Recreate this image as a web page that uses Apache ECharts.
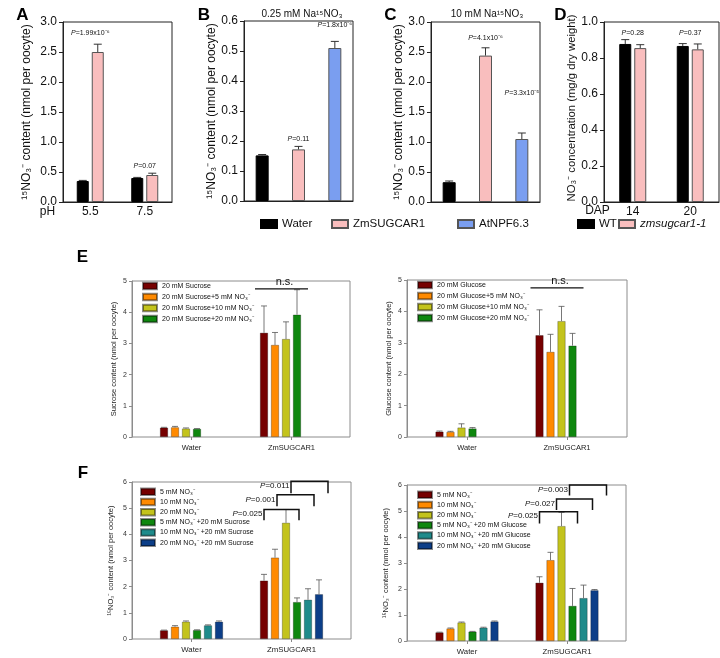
<!DOCTYPE html>
<html><head><meta charset="utf-8">
<script src="https://cdn.jsdelivr.net/npm/echarts@6/dist/echarts.min.js"></script>
<style>html,body{margin:0;padding:0;background:#fff}#c{width:720px;height:658px}</style>
</head><body><div id="c"></div>
<script>
// ================= DATA =================
// Panel A
const aCats = ['5.5', '7.5'];
const aWater = [0.35, 0.40];
const aWaterErr = [0.01, 0.01];
const aZm = [2.50, 0.45];
const aZmErr = [0.13, 0.03];
const aPText = ['P=1.99x10⁻⁶', 'P=0.07'];
const aPAt = [2.82, 0.60];
// Panel B (0.25 mM)
const bCats = ['Water', 'ZmSUGCAR1', 'AtNPF6.3'];
const bVals = [0.152, 0.172, 0.510];
const bErr = [0.003, 0.010, 0.022];
const bPText = [null, 'P=0.11', 'P=1.8x10⁻⁶'];
const bPAt = [null, 0.206, 0.588];
// Panel C (10 mM)
const cVals = [0.33, 2.44, 1.05];
const cErr = [0.02, 0.13, 0.10];
const cPText = [null, 'P=4.1x10⁻⁶', 'P=3.3x10⁻⁵'];
const cPAt = [null, 2.74, 1.81];
// Panel D
const dCats = ['14', '20'];
const dWT = [0.878, 0.867];
const dWTErr = [0.024, 0.013];
const dMut = [0.855, 0.848];
const dMutErr = [0.019, 0.030];
const dPText = ['P=0.28', 'P=0.37'];
const dPAt = [0.94, 0.94];
// Panel E
const eCats = ['Water', 'ZmSUGCAR1'];
const eSucNames = ['20 mM Sucrose', '20 mM Sucrose+5 mM NO₃⁻', '20 mM Sucrose+10 mM NO₃⁻', '20 mM Sucrose+20 mM NO₃⁻'];
const eSucVals = [[0.30, 3.34], [0.31, 2.95], [0.27, 3.14], [0.26, 3.92]];
const eSucErr = [[0.01, 0.86], [0.03, 0.40], [0.02, 0.55], [0.01, 0.80]];
const eGluNames = ['20 mM Glucose', '20 mM Glucose+5 mM NO₃⁻', '20 mM Glucose+10 mM NO₃⁻', '20 mM Glucose+20 mM NO₃⁻'];
const eGluVals = [[0.17, 3.24], [0.16, 2.71], [0.30, 3.69], [0.27, 2.91]];
const eGluErr = [[0.02, 0.81], [0.02, 0.56], [0.12, 0.47], [0.03, 0.39]];
const eNsText = 'n.s.';
const eNsAt = 4.75;
// Panel F
const fCats = ['Water', 'ZmSUGCAR1'];
const fSucNames = ['5 mM NO₃⁻', '10 mM NO₃⁻', '20 mM NO₃⁻', '5 mM NO₃⁻ +20 mM Sucrose', '10 mM NO₃⁻ +20 mM Sucrose', '20 mM NO₃⁻ +20 mM Sucrose'];
const fSucVals = [[0.33, 2.23], [0.47, 3.11], [0.66, 4.44], [0.34, 1.41], [0.52, 1.50], [0.66, 1.71]];
const fSucErr = [[0.01, 0.24], [0.04, 0.32], [0.03, 0.51], [0.01, 0.16], [0.02, 0.42], [0.03, 0.55]];
const fSucP = ['P=0.025', 'P=0.001', 'P=0.011'];
const fSucBrTop = [4.95, 5.51, 6.03];
const fSucBrEnd = [4.54, 5.07, 5.57];
const fGluNames = ['5 mM NO₃⁻', '10 mM NO₃⁻', '20 mM NO₃⁻', '5 mM NO₃⁻ +20 mM Glucose', '10 mM NO₃⁻ +20 mM Glucose', '20 mM NO₃⁻ +20 mM Glucose'];
const fGluVals = [[0.33, 2.24], [0.48, 3.11], [0.71, 4.42], [0.36, 1.35], [0.51, 1.65], [0.75, 1.95]];
const fGluErr = [[0.01, 0.23], [0.02, 0.30], [0.02, 0.53], [0.01, 0.67], [0.02, 0.50], [0.02, 0.03]];
const fGluP = ['P=0.025', 'P=0.027', 'P=0.003'];
const fGluBrTop = [4.97, 5.46, 6.0];
const fGluBrEnd = [4.52, 5.04, 5.6];

// ================= STYLE =================
const FF = '"Liberation Sans", Arial, Helvetica, sans-serif';
const BLACK = '#000000', PINK = '#F9BEBE', BLUE = '#7A9EF0';
const E_COLORS = ['#760000', '#FF8A00', '#C3C31C', '#0E870E', '#1F8B8B', '#0C3E88'];
const NAME15 = '¹⁵NO₃⁻ content (nmol per oocyte)';
const NAMED = 'NO₃⁻ concentration (mg/g dry weight)';
const TOPERR = {color: '#333', cap: 4, width: 1};
const SMERR = {color: '#555', cap: 3, width: 0.8};
const brOffL = {suc: [0, 2, 5], glu: [0, 6, 8]};
const brOffR = {suc: [2, 6, 9], glu: [5, 9, 12]};

const grids = [
  {left: 63, top: 22, width: 109, height: 180, show: true, borderColor: '#222', borderWidth: 1},
  {left: 244, top: 21, width: 109, height: 180, show: true, borderColor: '#222', borderWidth: 1},
  {left: 431, top: 22, width: 109, height: 180, show: true, borderColor: '#222', borderWidth: 1},
  {left: 604, top: 22, width: 115, height: 180, show: true, borderColor: '#222', borderWidth: 1},
  {left: 132, top: 281, width: 218, height: 156, show: true, borderColor: '#8c8c8c', borderWidth: 1},
  {left: 141.5, top: 281, width: 200, height: 156},
  {left: 407, top: 280, width: 220, height: 157, show: true, borderColor: '#8c8c8c', borderWidth: 1},
  {left: 417, top: 280, width: 200, height: 157},
  {left: 132, top: 482, width: 219, height: 157, show: true, borderColor: '#8c8c8c', borderWidth: 1},
  {left: 141.5, top: 482, width: 200, height: 157},
  {left: 407, top: 485, width: 219, height: 156, show: true, borderColor: '#8c8c8c', borderWidth: 1},
  {left: 417, top: 485, width: 200, height: 156}
];

function topX(gi, cats, showLabel) {
  return {gridIndex: gi, type: 'category', data: cats,
    axisLine: {show: true, lineStyle: {color: '#222', width: 1}}, axisTick: {show: false},
    axisLabel: {show: showLabel, fontSize: 12, color: '#111', fontFamily: FF, margin: 4}};
}
function topY(gi, max, interval, name, gap, fs, pad) {
  return {gridIndex: gi, type: 'value', min: 0, max: max, interval: interval,
    name: name, nameLocation: 'middle', nameGap: gap,
    nameTextStyle: {fontSize: fs, color: '#111', fontFamily: FF, padding: pad || 0},
    axisLine: {show: true, lineStyle: {color: '#222', width: 1}},
    axisTick: {show: true, length: 4, lineStyle: {color: '#222'}},
    axisLabel: {fontSize: 12, color: '#111', fontFamily: FF, margin: 6, formatter: v => v.toFixed(1)},
    splitLine: {show: false}};
}
function hidX(gi) { return {gridIndex: gi, type: 'value', show: false}; }
function smX(gi, cats, fs) {
  return {gridIndex: gi, type: 'category', data: cats,
    axisLine: {show: false},
    axisTick: {show: true, alignWithLabel: true, length: 3, lineStyle: {color: '#888'}},
    axisLabel: {fontSize: fs, color: '#222', fontFamily: FF, margin: 7}};
}
function smY(gi, max, name, gap) {
  return {gridIndex: gi, type: 'value', min: 0, max: max, interval: 1,
    name: name, nameLocation: 'middle', nameGap: gap,
    nameTextStyle: {fontSize: 7.5, color: '#222', fontFamily: FF},
    axisLine: {show: true, lineStyle: {color: '#8c8c8c'}},
    axisTick: {show: true, length: 3, lineStyle: {color: '#8c8c8c'}},
    axisLabel: {fontSize: 7, color: '#333', fontFamily: FF, margin: 5},
    splitLine: {show: false}};
}
function hidY(gi, max) { return {gridIndex: gi, type: 'value', min: 0, max: max, show: false}; }

const xAxis = [
  topX(0, aCats, true),
  topX(1, bCats, false),
  topX(2, bCats, false),
  topX(3, dCats, true),
  hidX(4), smX(5, eCats, 7.5),
  hidX(6), smX(7, eCats, 7.5),
  hidX(8), smX(9, fCats, 7.8),
  hidX(10), smX(11, fCats, 7.8)
];
const yAxis = [
  topY(0, 3, 0.5, NAME15, 30, 12),
  topY(1, 0.6, 0.1, NAME15, 25, 12),
  topY(2, 3, 0.5, NAME15, 26, 12),
  topY(3, 1, 0.2, NAMED, 25, 11.3, [0, 0, 0, 8]),
  smY(4, 5, 'Sucrose content (nmol per oocyte)', 14), hidY(5, 5),
  smY(6, 5, 'Glucose content (nmol per oocyte)', 14), hidY(7, 5),
  smY(8, 6, NAME15, 17), hidY(9, 6),
  smY(10, 6, NAME15, 17), hidY(11, 6)
];

// ================= SERIES =================
const series = [];
const errInfo = [];
function addBar(cfg, err, es) {
  series.push(Object.assign({type: 'bar', animation: false}, cfg));
  errInfo.push(err ? Object.assign({err: err}, es) : null);
  return series.length - 1;
}
const topBorder = c => ({color: c, borderColor: c === BLACK ? BLACK : '#555', borderWidth: 1});

// A
addBar({name: 'Water', xAxisIndex: 0, yAxisIndex: 0, data: aWater, barWidth: 12, barGap: '25%', itemStyle: topBorder(BLACK)}, aWaterErr, TOPERR);
addBar({name: 'ZmSUGCAR1', xAxisIndex: 0, yAxisIndex: 0, data: aZm, barWidth: 12, barGap: '25%', itemStyle: topBorder(PINK)}, aZmErr, TOPERR);
// B, C (one bar per category, stacked to share the slot)
const topCols = [BLACK, PINK, BLUE];
const bIdx = [], cIdx = [];
bCats.forEach((nm, k) => {
  bIdx.push(addBar({name: nm, xAxisIndex: 1, yAxisIndex: 1, stack: 'B', barWidth: 13,
    data: bCats.map((_, i) => i === k ? bVals[k] : '-'), itemStyle: topBorder(topCols[k])},
    bCats.map((_, i) => i === k ? bErr[k] : null), TOPERR));
});
bCats.forEach((nm, k) => {
  cIdx.push(addBar({name: nm, xAxisIndex: 2, yAxisIndex: 2, stack: 'C', barWidth: 13,
    data: bCats.map((_, i) => i === k ? cVals[k] : '-'), itemStyle: topBorder(topCols[k])},
    bCats.map((_, i) => i === k ? cErr[k] : null), TOPERR));
});
// D
addBar({name: 'WT', xAxisIndex: 3, yAxisIndex: 3, data: dWT, barWidth: 12, barGap: '25%', itemStyle: topBorder(BLACK)}, dWTErr, TOPERR);
addBar({name: 'zmsugcar1-1', xAxisIndex: 3, yAxisIndex: 3, data: dMut, barWidth: 12, barGap: '25%', itemStyle: topBorder(PINK)}, dMutErr, TOPERR);

const smStyle = c => ({color: c, borderColor: 'rgba(0,0,0,0.45)', borderWidth: 0.6});
function addGroup(names, vals, errs, axis, pads) {
  const idx = [];
  names.forEach((nm, k) => {
    idx.push(addBar({name: nm, xAxisIndex: axis, yAxisIndex: axis, data: vals[k], barWidth: 8, barGap: '37.5%', itemStyle: smStyle(E_COLORS[k])}, errs[k], SMERR));
  });
  for (let p = 0; p < pads; p++) {
    addBar({name: '_pad' + axis + p, xAxisIndex: axis, yAxisIndex: axis, data: ['-', '-'], barWidth: 8, barGap: '37.5%'}, null);
  }
  return idx;
}
const eLIdx = addGroup(eSucNames, eSucVals, eSucErr, 5, 2);
const eRIdx = addGroup(eGluNames, eGluVals, eGluErr, 7, 2);
const fLIdx = addGroup(fSucNames, fSucVals, fSucErr, 9, 0);
const fRIdx = addGroup(fGluNames, fGluVals, fGluErr, 11, 0);

// ================= LEGENDS =================
const topLeg = {orient: 'horizontal', top: 218, padding: 0, itemWidth: 16, itemHeight: 8, icon: 'rect', selectedMode: false,
  textStyle: {fontSize: 11.5, color: '#111', fontFamily: FF}};
const eLeg = {orient: 'vertical', padding: 0, itemWidth: 14, itemHeight: 6.5, itemGap: 2, icon: 'rect', selectedMode: false,
  textStyle: {fontSize: 7, lineHeight: 9, color: '#111', fontFamily: FF}};
const fLeg = Object.assign({}, eLeg, {itemGap: 1.7, textStyle: {fontSize: 7, lineHeight: 8.5, color: '#111', fontFamily: FF}});
const legend = [
  Object.assign({}, topLeg, {data: ['Water'], left: 260}),
  Object.assign({}, topLeg, {data: ['ZmSUGCAR1'], left: 331}),
  Object.assign({}, topLeg, {data: ['AtNPF6.3'], left: 457}),
  Object.assign({}, topLeg, {data: ['WT'], left: 577}),
  Object.assign({}, topLeg, {data: ['zmsugcar1-1'], left: 618, textStyle: {fontSize: 11.5, color: '#111', fontFamily: FF, fontStyle: 'italic'}}),
  Object.assign({}, eLeg, {data: eSucNames, left: 142, top: 281.5}),
  Object.assign({}, eLeg, {data: eGluNames, left: 417, top: 280.5}),
  Object.assign({}, fLeg, {data: fSucNames, left: 140, top: 487.5}),
  Object.assign({}, fLeg, {data: fGluNames, left: 417, top: 490.5})
];

const option = {animation: false, backgroundColor: '#fff', grid: grids, xAxis: xAxis, yAxis: yAxis, series: series, legend: legend};
const chart = echarts.init(document.getElementById('c'), null, {renderer: 'canvas'});
chart.setOption(option);

// ================= ANNOTATIONS (from library layout) =================
const model = chart.getModel();
const G = [];
const ln = (x1, y1, x2, y2, c, w) => ({type: 'line', silent: true, z: 100, shape: {x1, y1, x2, y2}, style: {stroke: c, lineWidth: w}});
const tx = (x, y, t, o) => ({type: 'text', silent: true, z: 100, x: x, y: y,
  style: Object.assign({text: t, fill: '#111', fontFamily: FF, fontSize: 10, align: 'center', verticalAlign: 'middle', textAlign: 'center', textVerticalAlign: 'middle'}, o)});
const pTx = (x, y, t, fs, align) => tx(x, y, '{i|P}' + t.slice(1), {fontSize: fs, align: align || 'center', textAlign: align || 'center',
  rich: {i: {fontStyle: 'italic', fontSize: fs, fontFamily: FF, fill: '#111'}}});
function bar(si, i) {
  const L = model.getSeriesByIndex(si).getData().getItemLayout(i);
  const top = Math.min(L.y, L.y + L.height);
  return {cx: L.x + L.width / 2, left: L.x, right: L.x + L.width, top: top};
}
const yPix = (ai, v) => chart.convertToPixel({yAxisIndex: ai}, v);
const xCat = (ai, c) => chart.convertToPixel({xAxisIndex: ai}, c);

// error bars
errInfo.forEach((e, si) => {
  if (!e) return;
  const s = series[si];
  s.data.forEach((v, i) => {
    if (typeof v !== 'number' || e.err[i] == null) return;
    const b = bar(si, i);
    const ye = yPix(s.yAxisIndex, v + e.err[i]);
    G.push(ln(b.cx, b.top, b.cx, ye, e.color, e.width));
    G.push(ln(b.cx - e.cap, ye, b.cx + e.cap, ye, e.color, e.width));
  });
});
// P values top panels
aCats.forEach((c, i) => G.push(pTx(xCat(0, c), yPix(0, aPAt[i]), aPText[i], 7)));
bCats.forEach((c, i) => { if (bPText[i]) G.push(pTx(bar(bIdx[i], i).cx, yPix(1, bPAt[i]), bPText[i], 7)); });
bCats.forEach((c, i) => { if (cPText[i]) G.push(pTx(bar(cIdx[i], i).cx, yPix(2, cPAt[i]), cPText[i], 7)); });
dCats.forEach((c, i) => G.push(pTx(xCat(3, c), yPix(3, dPAt[i]), dPText[i], 7)));
// n.s.
[[eLIdx, 5], [eRIdx, 7]].forEach(([idx, ax]) => {
  const l = bar(idx[0], 1).left - 5, r = bar(idx[idx.length - 1], 1).right + 7;
  const y = yPix(ax, eNsAt);
  G.push(ln(l, y, r, y, '#111', 1.2));
  G.push(tx((l + r) / 2 + 3, y - 1, eNsText, {fontSize: 11, verticalAlign: 'bottom', textVerticalAlign: 'bottom'}));
});
// brackets F
function brackets(idx, ax, P, top, end, offL, offR) {
  P.forEach((t, k) => {
    const xl = bar(idx[k], 1).cx + offL[k], xr = bar(idx[k + 3], 1).cx + offR[k];
    const yt = yPix(ax, top[k]), ye = yPix(ax, end[k]);
    G.push({type: 'polyline', silent: true, z: 100, shape: {points: [[xl, ye], [xl, yt], [xr, yt], [xr, ye]]}, style: {stroke: '#111', lineWidth: 1.5, fill: null}});
    G.push(pTx(xl - 1.5, yt + 4.5, t, 8, 'right'));
  });
}
brackets(fLIdx, 9, fSucP, fSucBrTop, fSucBrEnd, brOffL.suc, brOffR.suc);
brackets(fRIdx, 11, fGluP, fGluBrTop, fGluBrEnd, brOffL.glu, brOffR.glu);
// panel letters, headings, axis start labels
const bold = {fontSize: 17, fontWeight: 'bold', fill: '#000'};
[['A', 22.5, 15.5], ['B', 204, 15.5], ['C', 390.5, 15.5], ['D', 560.5, 15.5], ['E', 82.5, 257.5], ['F', 83, 473]]
  .forEach(([t, x, y]) => G.push(tx(x, y, t, bold)));
G.push(tx(302, 14, '0.25 mM Na¹⁵NO₃', {fontSize: 10}));
G.push(tx(487, 14, '10 mM Na¹⁵NO₃', {fontSize: 10}));
G.push(tx(47.5, 212, 'pH', {fontSize: 12}));
G.push(tx(597.5, 211, 'DAP', {fontSize: 12}));

chart.setOption({graphic: {elements: G}});
</script></body></html>
